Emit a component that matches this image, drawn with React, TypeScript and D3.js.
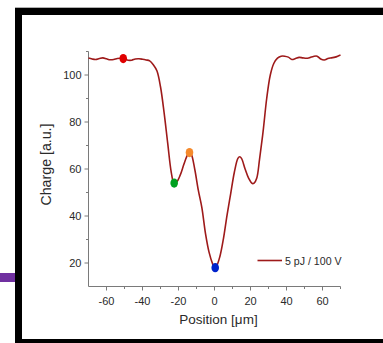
import React from "react";
import * as d3 from "d3";

// Charge profile across the position scan (5 pJ / 100 V)
const positions = [
  -70, -68, -66, -64, -62, -60, -58, -56, -54, -52, -50, -48, -46, -44, -42, -40, -38, -36, -34, -32,
  -30, -28, -26, -24, -22.5, -21, -19, -17, -15, -14, -13, -11, -9, -7, -5, -3, -1, 0, 1, 3, 5, 7, 9,
  11, 13, 14, 15, 17, 19, 21, 22, 23.5, 25, 27, 29, 31, 33, 35, 37, 39, 41, 43, 45, 47, 49, 51, 53,
  55, 57, 59, 61, 63, 65, 67, 69, 70,
];
const charge = [
  107.2, 106.8, 106.6, 107.0, 107.3, 106.9, 106.5, 106.6, 107.0, 107.1, 106.8, 106.3, 106.3, 106.8,
  106.9, 106.7, 106.4, 106.0, 104.4, 101.8, 95.0, 84.0, 71.0, 58.5, 54.0, 54.5, 57.5, 62.0, 66.0, 67.0,
  66.5, 60.0, 51.0, 43.5, 32.5, 24.5, 19.5, 18.0, 18.5, 22.8, 30.5, 40.5, 49.5, 58.5, 64.5, 65.2, 64.5,
  60.0, 56.0, 53.8, 54.0, 56.2, 64.0, 76.0, 90.0, 100.0, 105.0, 107.2, 108.0, 108.0, 107.6, 106.6,
  107.0, 107.5, 107.3, 107.1, 107.4, 107.9, 108.0, 106.8, 106.4, 107.0, 107.3, 107.6, 108.2, 108.5,
];

// Highlighted sample points
const markerX = [-50.7, -22.4, -13.9, 0.4];
const markerY = [107, 54, 67, 18];
const markerColors = ["#e00000", "#00a020", "#f58a2c", "#0022cc"];

const xTicks = [-60, -40, -20, 0, 20, 40, 60];
const xMinorTicks = [-50, -30, -10, 10, 30, 50, 70];
const yTicks = [20, 40, 60, 80, 100];
const yMinorTicks = [30, 50, 70, 90, 110];

const legendLabel = "5 pJ / 100 V";
const xLabel = "Position [\u03bcm]";
const yLabel = "Charge [a.u.]";

export default function App() {
  const W = 383;
  const H = 343;
  const x = d3.scaleLinear().domain([-70, 70]).range([88.5, 340.5]);
  const y = d3.scaleLinear().domain([10, 110]).range([286.5, 51.5]);

  const pts: [number, number][] = positions.map((p, i) => [p, charge[i]]);
  const line = d3
    .line<[number, number]>()
    .x((d) => x(d[0]))
    .y((d) => y(d[1]))
    .curve(d3.curveCatmullRom.alpha(0.5));

  const axisColor = "#7a7a7a";
  const textColor = "#2a2a2a";
  const font = "Liberation Sans, Arial, sans-serif";
  const curveColor = "#9e1a1a";

  return (
    <svg
      width={W}
      height={H}
      style={{ position: "fixed", left: 0, top: 0, display: "block", background: "#fff" }}
    >
      {/* frame */}
      <line x1={15} x2={W} y1={7.5} y2={7.5} stroke="#b0b0b0" strokeWidth={1} />
      <rect x={15} y={8} width={W - 15} height={7} fill="#000" />
      <rect x={15} y={8} width={7} height={H - 8} fill="#000" />
      <rect x={15} y={339} width={W - 15} height={4} fill="#000" />
      <rect x={0} y={273} width={15} height={9} fill="#7030a0" />

      {/* axes */}
      <line x1={x(-70)} x2={x(70)} y1={y(10)} y2={y(10)} stroke={axisColor} strokeWidth={1} />
      <line x1={x(-70)} x2={x(-70)} y1={y(10)} y2={y(110)} stroke={axisColor} strokeWidth={1} />

      {xTicks.map((t) => (
        <g key={"xt" + t}>
          <line x1={x(t)} x2={x(t)} y1={y(10)} y2={y(10) + 4} stroke={axisColor} />
          <text
            x={x(t)}
            y={305}
            textAnchor="middle"
            fontSize={11}
            fontFamily={font}
            fill={textColor}
          >
            {t}
          </text>
        </g>
      ))}
      {xMinorTicks.map((t) => (
        <line key={"xm" + t} x1={x(t)} x2={x(t)} y1={y(10)} y2={y(10) + 2.5} stroke={axisColor} />
      ))}
      {yTicks.map((t) => (
        <g key={"yt" + t}>
          <line x1={x(-70) - 4} x2={x(-70)} y1={y(t)} y2={y(t)} stroke={axisColor} />
          <text
            x={x(-70) - 7}
            y={y(t) + 4}
            textAnchor="end"
            fontSize={11}
            fontFamily={font}
            fill={textColor}
          >
            {t}
          </text>
        </g>
      ))}
      {yMinorTicks.map((t) => (
        <line key={"ym" + t} x1={x(-70) - 2.5} x2={x(-70)} y1={y(t)} y2={y(t)} stroke={axisColor} />
      ))}

      {/* axis titles */}
      <text
        x={218.5}
        y={323.5}
        textAnchor="middle"
        fontSize={13.5}
        fontFamily={font}
        fill={textColor}
      >
        {xLabel}
      </text>
      <text
        transform={`translate(51,${164.5}) rotate(-90)`}
        textAnchor="middle"
        fontSize={14.2}
        fontFamily={font}
        fill={textColor}
      >
        {yLabel}
      </text>

      {/* data curve */}
      <path d={line(pts) ?? ""} fill="none" stroke={curveColor} strokeWidth={1.6} />

      {markerX.map((mx, i) => (
        <ellipse key={"m" + i} cx={x(mx)} cy={y(markerY[i])} rx={3.8} ry={4.6} fill={markerColors[i]} />
      ))}

      {/* legend */}
      <line x1={257.5} x2={282} y1={260.5} y2={260.5} stroke={curveColor} strokeWidth={1.6} />
      <text x={285} y={264.5} fontSize={10.6} fontFamily={font} fill={textColor}>
        {legendLabel}
      </text>
    </svg>
  );
}
